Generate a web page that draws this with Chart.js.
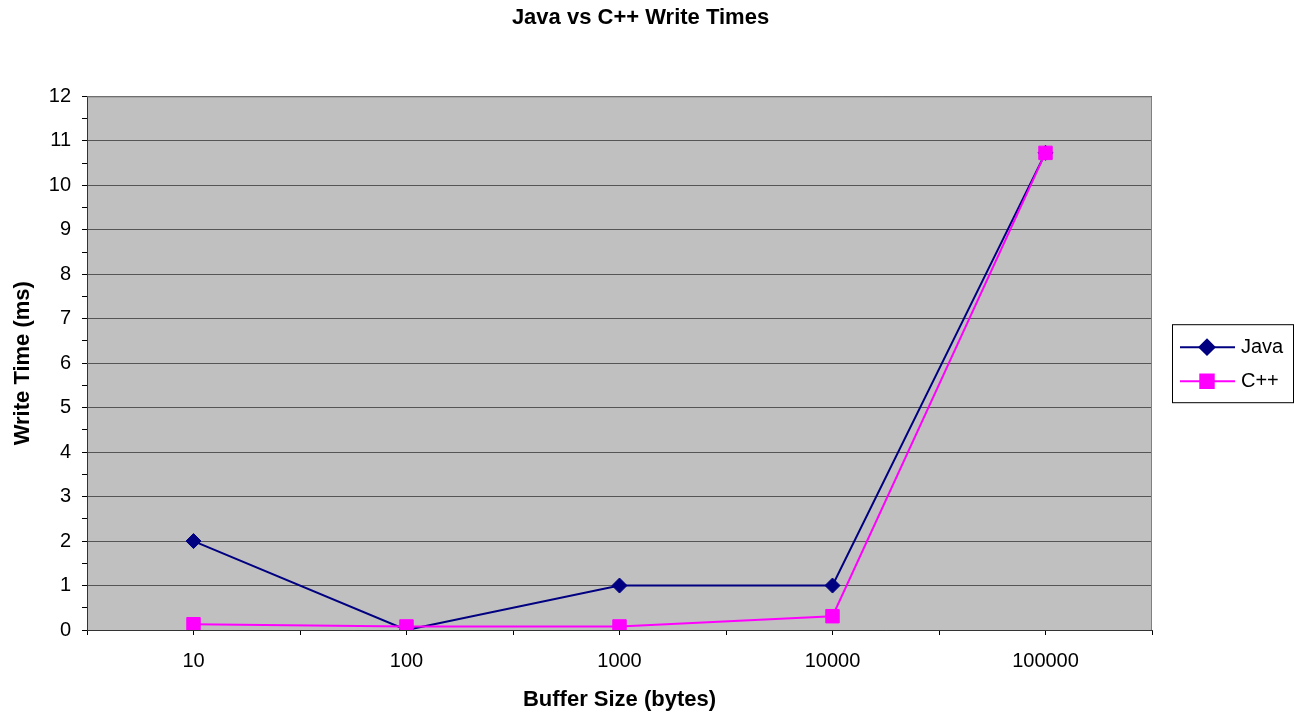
<!DOCTYPE html>
<html>
<head>
<meta charset="utf-8">
<script src="https://cdn.jsdelivr.net/npm/chart.js@4.4.1/dist/chart.umd.min.js"></script>
<style>
  html, body { margin: 0; padding: 0; background: #fff; }
  #wrap { width: 1297px; height: 715px; }
</style>
</head>
<body>
<div id="wrap"><canvas id="writeTimesChart"></canvas></div>
<script>
const bufferSizes = ["10", "100", "1000", "10000", "100000"];
const javaTimes = [2, 0, 1, 1, 10.73];
const cppTimes = [0.13, 0.08, 0.08, 0.31, 10.73];
const yMin = 0, yMax = 12;

const FONT = "'Liberation Sans', Arial, sans-serif";

const toPoints = (values) => values.map((v, i) => ({x: i, y: v}));

// grey plot area + frame, like the old excel charts
const plotFrame = {
    id: "plotFrame",
    beforeDraw(chart) {
        const {ctx, chartArea: a} = chart;
        ctx.save();
        ctx.fillStyle = "#ffffff";
        ctx.fillRect(0, 0, chart.width, chart.height);
        ctx.fillStyle = "#c0c0c0";
        ctx.fillRect(a.left, a.top, a.right - a.left, a.bottom - a.top);
        ctx.restore();
    },
    beforeDatasetsDraw(chart) {
        const {ctx, chartArea: a} = chart;
        ctx.save();
        ctx.strokeStyle = "#808080";
        ctx.lineWidth = 1;
        ctx.beginPath();
        ctx.moveTo(a.left, a.top + 0.5);
        ctx.lineTo(a.right - 0.5, a.top + 0.5);
        ctx.lineTo(a.right - 0.5, a.bottom);
        ctx.stroke();
        ctx.restore();
    }
};

// boxed legend with line + marker per series
const boxLegend = {
    id: "boxLegend",
    afterDraw(chart) {
        const {ctx, chartArea: a} = chart;
        const left = a.right + 20;
        const mid = (a.top + a.bottom) / 2;
        const top = mid - 39;
        ctx.save();
        ctx.fillStyle = "#ffffff";
        ctx.fillRect(left, top, 121, 78);
        ctx.strokeStyle = "#000000";
        ctx.lineWidth = 1;
        ctx.strokeRect(left + 0.5, top + 0.5, 121, 78);

        const rows = [mid - 16, mid + 18];
        chart.data.datasets.forEach((ds, i) => {
            const y = rows[i];
            ctx.strokeStyle = ds.borderColor;
            ctx.lineWidth = 2;
            ctx.beginPath();
            ctx.moveTo(left + 8, y);
            ctx.lineTo(left + 63, y);
            ctx.stroke();
            ctx.fillStyle = ds.pointBackgroundColor;
            ctx.strokeStyle = ds.pointBorderColor;
            Chart.helpers.drawPoint(ctx, {pointStyle: ds.pointStyle, radius: ds.pointRadius, borderWidth: 1, rotation: 0}, left + 35, y);
            ctx.fillStyle = "#000000";
            ctx.font = "20px " + FONT;
            ctx.textAlign = "left";
            ctx.textBaseline = "middle";
            ctx.fillText(ds.label, left + 69, y);
        });
        ctx.restore();
    }
};

const canvasElement = document.getElementById("writeTimesChart");

const writeTimesChart = new Chart(canvasElement, {
    type: "line",
    data: {
        datasets: [
            {
                label: "Java",
                data: toPoints(javaTimes),
                borderColor: "#000080",
                backgroundColor: "#000080",
                borderWidth: 2,
                pointStyle: "rectRot",
                pointRadius: 7.5,
                pointBackgroundColor: "#000080",
                pointBorderColor: "#000080",
                pointBorderWidth: 1,
                order: 1,
                tension: 0
            },
            {
                label: "C++",
                data: toPoints(cppTimes),
                borderColor: "#ff00ff",
                backgroundColor: "#ff00ff",
                borderWidth: 2,
                pointStyle: "rect",
                pointRadius: 9.5,
                pointBackgroundColor: "#ff00ff",
                pointBorderColor: "#ff00ff",
                pointBorderWidth: 1,
                order: 0,
                tension: 0
            }
        ]
    },
    options: {
        responsive: true,
        maintainAspectRatio: false,
        animation: false,
        layout: {padding: {left: 0, right: 16, top: 0, bottom: 0}},
        plugins: {
            legend: {display: false},
            tooltip: {enabled: false},
            title: {
                display: true,
                text: "Java vs C++ Write Times",
                color: "#000000",
                font: {family: FONT, size: 22, weight: "bold"},
                padding: {top: 5, bottom: 65}
            }
        },
        scales: {
            x: {
                type: "linear",
                min: -0.5,
                max: bufferSizes.length - 0.5,
                afterFit: (scale) => { scale.height = 85; },
                ticks: {
                    stepSize: 0.5,
                    autoSkip: false,
                    maxRotation: 0,
                    padding: 14,
                    color: "#000000",
                    font: {family: FONT, size: 20},
                    callback: (v) => Number.isInteger(v) ? bufferSizes[v] : ""
                },
                grid: {drawOnChartArea: false, drawTicks: true, tickLength: 5, tickColor: "#000000"},
                border: {color: "#333333", width: 1},
                title: {
                    display: true,
                    text: "Buffer Size (bytes)",
                    color: "#000000",
                    font: {family: FONT, size: 22, weight: "bold"},
                    padding: {top: 0, bottom: 2}
                }
            },
            y: {
                min: yMin,
                max: yMax,
                afterFit: (scale) => { scale.width = 87; },
                ticks: {
                    stepSize: 0.5,
                    autoSkip: false,
                    padding: 11,
                    color: "#000000",
                    font: {family: FONT, size: 20},
                    callback: (v) => Number.isInteger(v) ? v : ""
                },
                grid: {
                    tickLength: 5,
                    tickColor: "#000000",
                    color: (c) => (c.tick && Number.isInteger(c.tick.value)) ? "#555555" : "rgba(0,0,0,0)"
                },
                border: {color: "#333333", width: 1},
                title: {
                    display: true,
                    text: "Write Time (ms)",
                    color: "#000000",
                    font: {family: FONT, size: 22, weight: "bold"},
                    padding: {top: 10, bottom: 0}
                }
            },
            // spacer on the right side for the boxed legend
            legendSpace: {
                position: "right",
                display: true,
                afterFit: (scale) => { scale.width = 129; },
                ticks: {display: false},
                grid: {display: false, drawTicks: false},
                border: {display: false}
            }
        }
    },
    plugins: [plotFrame, boxLegend]
});
</script>
</body>
</html>
